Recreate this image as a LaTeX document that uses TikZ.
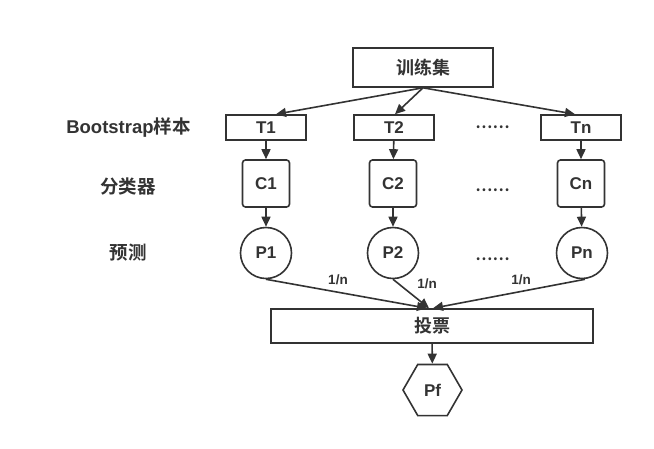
\documentclass[tikz,border=0pt]{standalone}
\usepackage{fontspec}
\setmainfont{Liberation Sans}
\newfontfamily\cjk{Noto Sans CJK SC}[BoldFont={* Bold}]
\usetikzlibrary{shapes.geometric,arrows.meta}
\definecolor{ink}{HTML}{333333}
\tikzset{
  every node/.style={text=ink,font=\fontsize{17}{20}\selectfont\bfseries},
  rect/.style={draw=ink,line width=1.6pt,minimum height=25pt,minimum width=80pt,inner sep=0pt},
  cls/.style={draw=ink,line width=1.6pt,rounded corners=3pt,minimum size=47pt,inner sep=0pt},
  pred/.style={draw=ink,line width=1.6pt,circle,minimum size=51pt,inner sep=0pt},
  arr/.style={draw=ink,line width=1.6pt,-{Triangle[length=10pt,width=9pt]}},
  lbl/.style={font=\fontsize{13.5}{16}\selectfont\bfseries},
  side/.style={font=\fontsize{18.5}{21}\selectfont\bfseries},
  big/.style={font=\fontsize{18}{21}\selectfont\bfseries\cjk},
  dots/.style={font=\fontsize{15.5}{18}\selectfont\bfseries\cjk,anchor=base}
}
\begin{document}
\begin{tikzpicture}[x=1pt,y=-1pt]
\useasboundingbox (0,0) rectangle (654,448);
\node[rect,big,minimum width=140pt,minimum height=39pt] (train) at (423,67.5) {训练集};
\node[rect] (T1) at (266,127.5) {T1};
\node[rect] (T2) at (394,127.5) {T2};
\node[rect] (Tn) at (581,127.5) {Tn};
\node[cls] (C1) at (266,183.5) {C1};
\node[cls] (C2) at (393,183.5) {C2};
\node[cls] (Cn) at (581,183.5) {Cn};
\node[pred] (P1) at (266,253) {P1};
\node[pred] (P2) at (393,253) {P2};
\node[pred] (Pn) at (582,253) {Pn};
\node[rect,big,minimum width=322pt,minimum height=34pt] (vote) at (432,326) {投票};
\node[draw=ink,line width=1.6pt,regular polygon,regular polygon sides=6,minimum size=59pt,inner sep=0pt] (Pf) at (432.5,390) {Pf};
\node[side] (lb1) at (128.5,128) {Bootstrap{\cjk 样本}};
\node[side] (lb2) at (128,186) {\cjk 分类器};
\node[side] (lb3) at (128,253) {\cjk 预测};
\node[dots] (d1) at (492.5,128.5) {……};
\node[dots] (d2) at (492.5,191.5) {……};
\node[dots] (d3) at (492.5,260.5) {……};
\draw[arr] (train.south) -- ([xshift=10pt]T1.north);
\draw[arr] (train.south) -- ([xshift=1pt]T2.north);
\draw[arr] (train.south) -- ([xshift=-6pt]Tn.north);
\draw[arr] (T1) -- (C1);
\draw[arr] (T2) -- (C2);
\draw[arr] (Tn) -- (Cn);
\draw[arr] (C1) -- (P1);
\draw[arr] (C2) -- (P2);
\draw[arr] (Cn) -- (Pn);
\draw[arr] (P1.south) -- ([xshift=-5pt]vote.north);
\draw[arr] (P2.south) -- ([xshift=-3pt]vote.north);
\draw[arr] ([xshift=3pt]Pn.south) -- ([xshift=1pt]vote.north);
\node[lbl] (w1) at (338,280) {1/n};
\node[lbl] (w2) at (427,284) {1/n};
\node[lbl] (w3) at (521,280) {1/n};
\draw[arr] (vote) -- (Pf);
\end{tikzpicture}
\end{document}
